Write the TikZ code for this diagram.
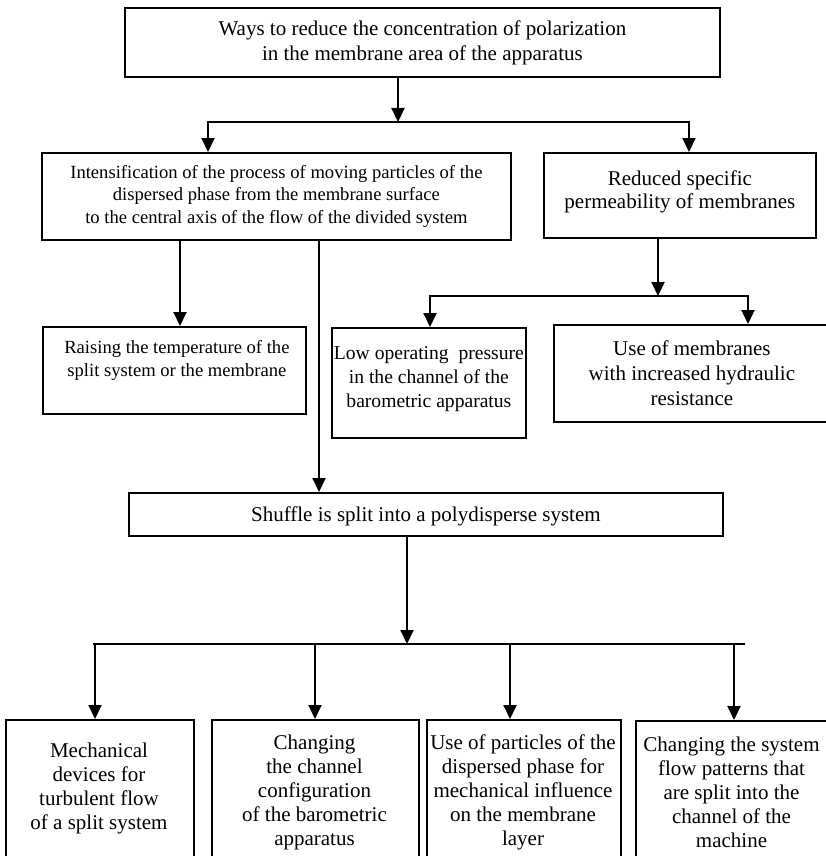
\documentclass[tikz,border=0pt]{standalone}
\usepackage{fontspec}
\setmainfont{Liberation Serif}
\usetikzlibrary{arrows.meta}
\begin{document}
\begin{tikzpicture}[x=1pt,y=-1pt,
  box/.style={draw, line width=1.8pt, inner sep=0pt, align=center, anchor=north west,
              font=\fontsize{21}{25}\selectfont},
  small/.style={font=\fontsize{18.6}{22.5}\selectfont},
  txt/.style={inner sep=0pt, align=center, font=\fontsize{21}{24}\selectfont},
  arr/.style={line width=2pt, -{Triangle[length=14pt,width=13pt]}},
  ln/.style={line width=2pt, line cap=rect}]
\useasboundingbox (0,0) rectangle (826,856);
\clip (0,0) rectangle (826,856);

% boxes
\node[box, minimum width=595pt, minimum height=69pt] (top) at (124,7)
  {Ways to reduce the concentration of polarization\\in the membrane area of the apparatus};
\node[box, small, minimum width=469pt, minimum height=87pt] (int) at (41,152)
  {Intensification of the process of moving particles of the\\dispersed phase from the membrane surface\\to the central axis of the flow of the divided system};
\node[box, font=\fontsize{21}{23}\selectfont, minimum width=272pt, minimum height=85pt] (red) at (543,152)
  {Reduced specific\\permeability of membranes\\[-11pt]\mbox{}};
\node[box, font=\fontsize{18.6}{23}\selectfont, minimum width=263pt, minimum height=87pt] (raise) at (42,326)
  {\hspace*{5pt}Raising the temperature of the\\\hspace*{5pt}split system or the membrane\\\mbox{}};
\node[box, font=\fontsize{19.6}{24}\selectfont, minimum width=194pt, minimum height=110pt] (low) at (331,327)
  {Low operating\ \ pressure\\in the channel of the\\barometric apparatus\\[-12pt]\mbox{}};
\node[box, minimum width=276pt, minimum height=97pt] (use) at (553,324)
  {Use of membranes\\with increased hydraulic\\resistance};
\node[box, minimum width=594pt, minimum height=43pt, text height=19pt] (shuf) at (128,492)
  {Shuffle is split into a polydisperse system};

\node[box, minimum width=188pt, minimum height=160pt] (ba) at (5,719) {};
\node[box, minimum width=207pt, minimum height=160pt] (bb) at (211,719) {};
\node[box, minimum width=194pt, minimum height=160pt] (bc) at (426,719) {};
\node[box, minimum width=194pt, minimum height=160pt] (bd) at (635,720) {};

\node[txt] (ta) at (99,788) {Mechanical\\devices for\\turbulent flow\\of a split system};
\node[txt] (tb) at (314.5,792) {Changing\\the channel\\configuration\\of the barometric\\apparatus};
\node[txt] (tc) at (523,792) {Use of particles of the\\dispersed phase for\\mechanical influence\\on the membrane\\layer};
\node[txt] (td) at (731.5,792) {Changing the system\\flow patterns that\\are split into the\\channel of the\\machine};

% connectors, level 1
\coordinate (j1) at (398,122);
\coordinate (s1L) at (208,122);
\coordinate (s1R) at (689,122);
\draw[arr] (top.south -| j1) -- (j1);
\draw[ln] (s1L) -- (s1R);
\draw[arr] (s1L) -- (s1L |- int.north);
\draw[arr] (s1R) -- (s1R |- red.north);

% from intensification
\coordinate (a1) at (180,0);
\coordinate (a2) at (319,0);
\draw[arr] (int.south -| a1) -- (raise.north -| a1);
\draw[arr] (int.south -| a2) -- (shuf.north -| a2);

% from reduced
\coordinate (a3) at (658,296);
\coordinate (s2L) at (430,296);
\coordinate (s2R) at (748,296);
\draw[arr] (red.south -| a3) -- (a3);
\draw[ln] (s2L) -- (s2R);
\draw[arr] (s2L) -- (s2L |- low.north);
\draw[arr] (s2R) -- (s2R |- use.north);

% from shuffle
\coordinate (j3) at (407,644);
\coordinate (s3L) at (94,644);
\coordinate (s3R) at (744,644);
\draw[arr] (shuf.south -| j3) -- (j3);
\draw[ln] (s3L) -- (s3R);
\coordinate (d1) at (95,644);
\coordinate (d2) at (315,644);
\coordinate (d3) at (510,644);
\coordinate (d4) at (734,644);
\draw[arr] (d1) -- (d1 |- ba.north);
\draw[arr] (d2) -- (d2 |- bb.north);
\draw[arr] (d3) -- (d3 |- bc.north);
\draw[arr] (d4) -- (d4 |- bd.north);
\end{tikzpicture}
\end{document}
